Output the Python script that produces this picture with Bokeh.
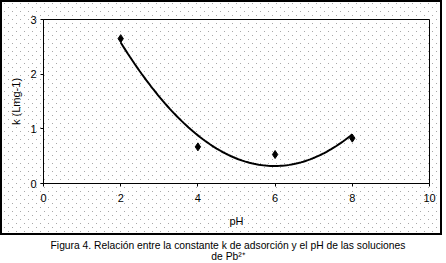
import numpy as np
from bokeh.plotting import figure
from bokeh.models import Range1d, FixedTicker, Div, Column
from bokeh.embed import file_html
from bokeh.resources import INLINE

# Data
ph = [2, 4, 6, 8]
k_values = [2.65, 0.67, 0.53, 0.83]
x_ticks = [0, 2, 4, 6, 8, 10]
y_ticks = [0, 1, 2, 3]
x_label = "pH"
y_label = "k (Lmg-1)"
caption = "Figura 4. Relación entre la constante k de adsorción y el pH de las soluciones<br>de Pb²⁺"

FONT = "Liberation Sans"

dot_tile = ("url(\"data:image/svg+xml;utf8,<svg xmlns='http://www.w3.org/2000/svg' width='8' height='8'>"
            "<rect x='2' y='1' width='1' height='1' fill='%23a8a8a8'/>"
            "<rect x='6' y='5' width='1' height='1' fill='%23a8a8a8'/></svg>\")")

p = figure(width=442, height=235, output_backend="svg", toolbar_location=None,
           x_range=Range1d(0, 10), y_range=Range1d(0, 3),
           min_border_left=41, min_border_right=15, min_border_top=17, min_border_bottom=54)
p.styles = {"border": "2px solid black", "background-image": dot_tile,
            "background-position": "0px 0px"}
p.background_fill_alpha = 0
p.border_fill_alpha = 0
p.outline_line_color = "black"
p.outline_line_width = 1
p.grid.visible = False

for ax in (p.xaxis[0], p.yaxis[0]):
    ax.axis_line_color = "black"
    ax.major_tick_line_color = "black"
    ax.major_tick_in = 0
    ax.major_tick_out = 3
    ax.minor_tick_line_color = None
    ax.major_label_text_font = FONT
    ax.major_label_text_font_size = "11px"
    ax.major_label_text_color = "black"
    ax.axis_label_text_font = FONT
    ax.axis_label_text_font_size = "11px"
    ax.axis_label_text_font_style = "normal"
    ax.axis_label_text_color = "black"

p.xaxis.ticker = FixedTicker(ticks=x_ticks)
p.yaxis.ticker = FixedTicker(ticks=y_ticks)
p.xaxis.axis_label = x_label
p.yaxis.axis_label = y_label
p.xaxis.major_label_standoff = 7
p.xaxis.axis_label_standoff = 10
p.yaxis.major_label_standoff = 4
p.yaxis.axis_label_standoff = 5

# Excel-style 2nd order polynomial trendline fitted to the data
coef = np.polyfit(ph, k_values, 2)
xs = np.linspace(min(ph), max(ph), 100)
p.line(xs, np.polyval(coef, xs), line_color="black", line_width=2)
p.scatter(ph, k_values, marker="diamond", size=8, color="black")

cap = Div(text=caption, width=446,
          styles={"font-family": FONT, "font-size": "10.3px", "text-align": "center",
                  "line-height": "11px", "width": "446px", "color": "black"})

layout = Column(p, cap, spacing=0)
open("out.html", "w").write(file_html(layout, INLINE))
